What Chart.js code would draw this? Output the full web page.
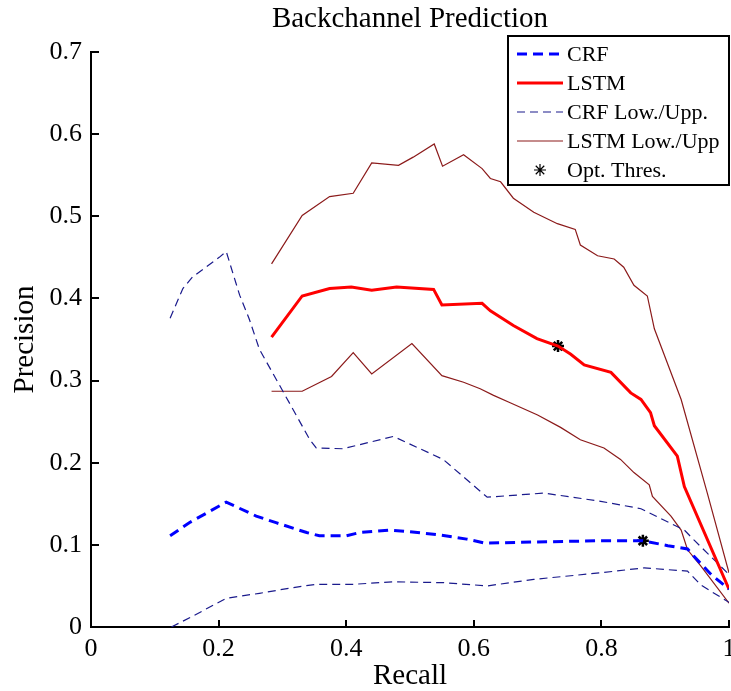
<!DOCTYPE html>
<html>
<head>
<meta charset="utf-8">
<title>Backchannel Prediction</title>
<script src="https://cdn.jsdelivr.net/npm/chart.js@4.4.1/dist/chart.umd.min.js"></script>
<style>
    html, body { margin: 0; padding: 0; background: #fff; }
    #wrap { width: 731px; height: 691px; position: relative; }
</style>
</head>
<body>
<div id="wrap"><canvas id="prChart"></canvas></div>
<script>
// Values (recall on x, precision on y)
const crfRecall = [0.124, 0.154, 0.212, 0.259, 0.29, 0.338, 0.358, 0.40, 0.421, 0.469, 0.5, 0.547, 0.589, 0.618, 0.668, 0.799, 0.865, 0.904, 0.935, 0.945, 0.972, 1.0];
const crfPrecision = [0.111, 0.127, 0.152, 0.135, 0.127, 0.115, 0.111, 0.111, 0.115, 0.118, 0.116, 0.112, 0.107, 0.102, 0.103, 0.105, 0.105, 0.099, 0.095, 0.086, 0.064, 0.046];

const crfLowRecall = [0.126, 0.159, 0.212, 0.264, 0.317, 0.353, 0.411, 0.474, 0.552, 0.621, 0.694, 0.799, 0.867, 0.935, 0.956, 1.0];
const crfLowPrecision = [0.0, 0.013, 0.035, 0.041, 0.048, 0.052, 0.052, 0.055, 0.054, 0.050, 0.058, 0.066, 0.072, 0.068, 0.051, 0.030];

const crfUppRecall = [0.124, 0.144, 0.159, 0.201, 0.212, 0.233, 0.248, 0.264, 0.29, 0.343, 0.353, 0.395, 0.474, 0.552, 0.621, 0.71, 0.799, 0.862, 0.893, 0.93, 0.945, 1.0];
const crfUppPrecision = [0.376, 0.412, 0.426, 0.450, 0.457, 0.404, 0.375, 0.338, 0.302, 0.228, 0.218, 0.217, 0.232, 0.204, 0.158, 0.163, 0.153, 0.144, 0.132, 0.118, 0.106, 0.064];

const lstmRecall = [0.283, 0.331, 0.374, 0.408, 0.44, 0.479, 0.537, 0.55, 0.613, 0.626, 0.662, 0.699, 0.732, 0.752, 0.773, 0.815, 0.846, 0.862, 0.877, 0.883, 0.919, 0.93, 1.0];
const lstmPrecision = [0.353, 0.403, 0.412, 0.414, 0.410, 0.414, 0.411, 0.392, 0.394, 0.385, 0.367, 0.351, 0.342, 0.332, 0.319, 0.310, 0.285, 0.277, 0.261, 0.245, 0.208, 0.171, 0.046];

const lstmUppRecall = [0.283, 0.331, 0.374, 0.411, 0.44, 0.482, 0.505, 0.538, 0.551, 0.584, 0.613, 0.626, 0.642, 0.662, 0.694, 0.731, 0.759, 0.767, 0.794, 0.82, 0.835, 0.851, 0.872, 0.883, 0.925, 0.966, 1.0];
const lstmUppPrecision = [0.442, 0.501, 0.524, 0.528, 0.565, 0.562, 0.572, 0.588, 0.561, 0.575, 0.558, 0.546, 0.542, 0.522, 0.505, 0.491, 0.484, 0.465, 0.452, 0.448, 0.438, 0.416, 0.403, 0.363, 0.277, 0.163, 0.066];

const lstmLowRecall = [0.283, 0.331, 0.377, 0.411, 0.44, 0.503, 0.55, 0.584, 0.61, 0.631, 0.657, 0.70, 0.736, 0.767, 0.804, 0.83, 0.851, 0.875, 0.88, 0.909, 0.925, 0.935, 0.956, 1.0];
const lstmLowPrecision = [0.287, 0.287, 0.305, 0.334, 0.308, 0.345, 0.306, 0.298, 0.290, 0.282, 0.273, 0.258, 0.243, 0.228, 0.218, 0.204, 0.188, 0.173, 0.159, 0.135, 0.118, 0.094, 0.074, 0.029];

// optimal thresholds (LSTM, CRF)
const optRecall = [0.732, 0.865];
const optPrecision = [0.342, 0.105];

const xTicks = [0, 0.2, 0.4, 0.6, 0.8, 1];
const yTicks = [0, 0.1, 0.2, 0.3, 0.4, 0.5, 0.6, 0.7];
const legendLabels = ["CRF", "LSTM", "CRF Low./Upp.", "LSTM Low./Upp", "Opt. Thres."];
const titleText = "Backchannel Prediction";

const serif = "'Liberation Serif', 'Times New Roman', serif";

function toPoints(xs, ys) {
    return xs.map((x, i) => ({ x: x, y: ys[i] }));
}

function fmt(v) {
    return String(Math.round(v * 10) / 10);
}

const blue = "#0000ff";
const navy = "#1a1a8c";
const red = "#ff0000";
const darkRed = "#8b1a1a";

const datasets = [
    { label: "CRF", data: toPoints(crfRecall, crfPrecision), borderColor: blue, borderWidth: 3, borderDash: [10, 6] },
    { label: "LSTM", data: toPoints(lstmRecall, lstmPrecision), borderColor: red, borderWidth: 3 },
    { label: "CRF Low.", data: toPoints(crfLowRecall, crfLowPrecision), borderColor: navy, borderWidth: 1.2, borderDash: [8, 5] },
    { label: "CRF Upp.", data: toPoints(crfUppRecall, crfUppPrecision), borderColor: navy, borderWidth: 1.2, borderDash: [8, 5] },
    { label: "LSTM Low.", data: toPoints(lstmLowRecall, lstmLowPrecision), borderColor: darkRed, borderWidth: 1.2 },
    { label: "LSTM Upp.", data: toPoints(lstmUppRecall, lstmUppPrecision), borderColor: darkRed, borderWidth: 1.2 },
    { label: "Opt. Thres.", data: toPoints(optRecall, optPrecision), showLine: false, pointStyle: "star", pointRadius: 6, borderColor: "#000", borderWidth: 2.5, backgroundColor: "#000" }
];
datasets.forEach(d => {
    d.fill = false;
    d.tension = 0;
    if (d.pointRadius === undefined) d.pointRadius = 0;
});

// legend rows point at the dataset that gives the style
const legendStyleIndex = [0, 1, 2, 4, 6];

// title, inward tick marks and the boxed legend, drawn like the MATLAB figure
const figureExtras = {
    id: "figureExtras",
    afterDraw(chart) {
        let ctx = chart.ctx;
        let area = chart.chartArea;
        let xs = chart.scales.x;
        let ys = chart.scales.y;
        ctx.save();

        ctx.strokeStyle = "#000";
        ctx.lineWidth = 2;
        ctx.beginPath();
        xTicks.forEach(v => {
            let px = Math.round(xs.getPixelForValue(v));
            ctx.moveTo(px, area.bottom);
            ctx.lineTo(px, area.bottom - 7);
        });
        yTicks.forEach(v => {
            let py = Math.round(ys.getPixelForValue(v));
            ctx.moveTo(area.left, py);
            ctx.lineTo(area.left + 8, py);
        });
        ctx.stroke();

        ctx.fillStyle = "#000";
        ctx.font = "29px " + serif;
        ctx.textAlign = "center";
        ctx.textBaseline = "middle";
        ctx.fillText(titleText, (area.left + area.right) / 2, 19);

        // legend box
        let bx = 508, by = 36, bw = 221, bh = 149;
        ctx.fillStyle = "#fff";
        ctx.fillRect(bx, by, bw, bh);
        ctx.strokeStyle = "#000";
        ctx.lineWidth = 2;
        ctx.strokeRect(bx, by, bw, bh);

        ctx.font = "22px " + serif;
        ctx.textAlign = "left";
        legendLabels.forEach((label, i) => {
            let ds = chart.data.datasets[legendStyleIndex[i]];
            let y = 54 + i * 29;
            if (ds.showLine === false) {
                ctx.strokeStyle = "#000";
                ctx.fillStyle = "#000";
                Chart.helpers.drawPoint(ctx, { pointStyle: "star", radius: 6, borderWidth: 2.5 }, 540, y);
            } else {
                ctx.strokeStyle = ds.borderColor;
                ctx.lineWidth = ds.borderWidth;
                ctx.setLineDash(ds.borderDash || []);
                ctx.beginPath();
                ctx.moveTo(517, y);
                ctx.lineTo(563, y);
                ctx.stroke();
                ctx.setLineDash([]);
            }
            ctx.fillStyle = "#000";
            ctx.fillText(label, 567, y + 1);
        });

        ctx.restore();
    }
};

Chart.defaults.font.family = serif;
Chart.defaults.color = "#000";

let ctx = document.getElementById("prChart").getContext("2d");
let prChart = new Chart(ctx, {
    type: "line",
    data: { datasets: datasets },
    options: {
        responsive: true,
        maintainAspectRatio: false,
        animation: false,
        devicePixelRatio: 1,
        layout: { autoPadding: false, padding: { top: 52, right: 2, left: 0, bottom: 0 } },
        scales: {
            x: {
                type: "linear",
                min: 0,
                max: 1,
                grid: { display: false, drawTicks: false },
                border: { display: true, color: "#000", width: 2 },
                ticks: { stepSize: 0.2, padding: 7, font: { size: 26 }, color: "#000", maxRotation: 0, callback: v => fmt(v) },
                title: { display: true, text: "Recall", font: { size: 29, lineHeight: 1 }, padding: { top: 0, bottom: 0 }, color: "#000" },
                afterFit: s => { s.height = 64; s.paddingRight = 0; s.paddingLeft = 0; }
            },
            y: {
                min: 0,
                max: 0.7,
                grid: { display: false, drawTicks: false },
                border: { display: true, color: "#000", width: 2 },
                ticks: { stepSize: 0.1, padding: 9, font: { size: 26 }, color: "#000", callback: v => fmt(v) },
                title: { display: true, text: "Precision", font: { size: 29, lineHeight: 1 }, padding: { top: 11, bottom: 0 }, color: "#000" },
                afterFit: s => { s.width = 91; s.paddingTop = 0; s.paddingBottom = 0; }
            }
        },
        plugins: {
            legend: { display: false },
            title: { display: false },
            tooltip: { enabled: false }
        }
    },
    plugins: [figureExtras]
});
</script>
</body>
</html>
